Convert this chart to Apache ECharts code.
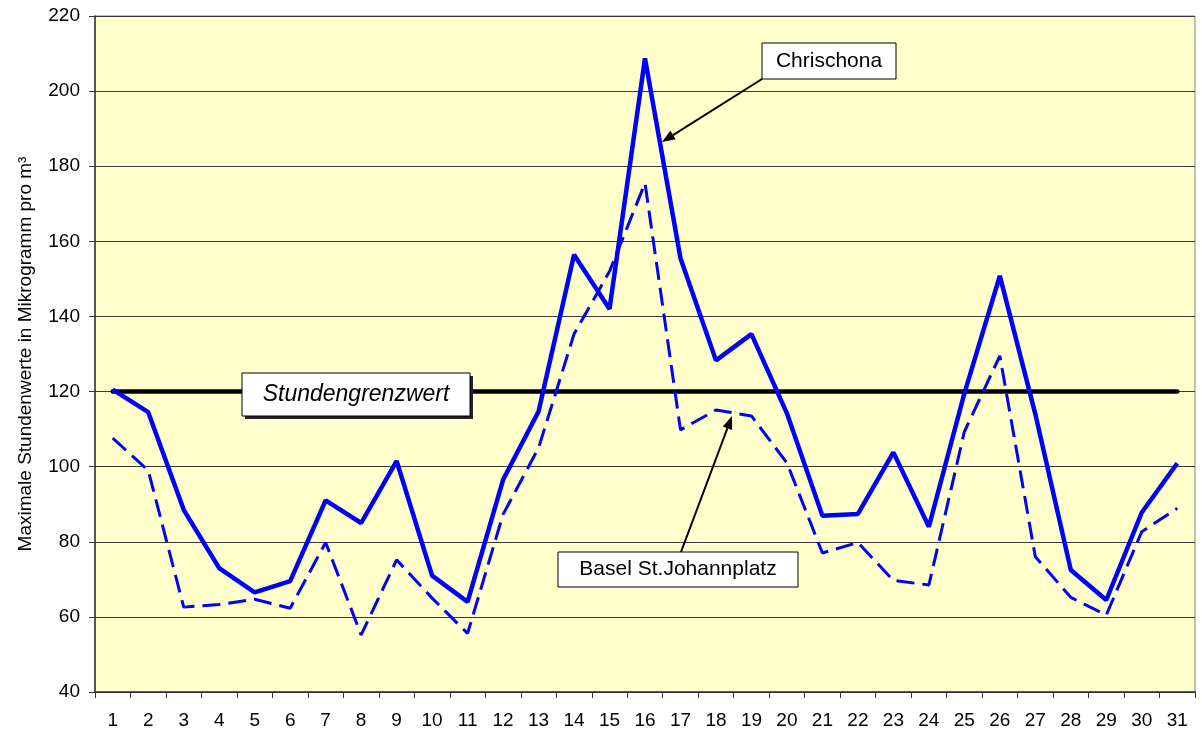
<!DOCTYPE html>
<html>
<head>
<meta charset="UTF-8">
<title>Maximale Stundenwerte</title>
<script src="https://cdn.jsdelivr.net/npm/echarts@6/dist/echarts.min.js" type="text/javascript"></script>
<style>
  html, body { margin: 0; padding: 0; background: #fff; }
</style>
</head>
<body>
<div id="container" style="width: 1202px; height: 736px;"></div>
<script>
// Tage 1..31
var days = [];
for (var d = 1; d <= 31; d++) days.push(String(d));

// Chrischona (durchgezogen)
var chrischona = [120.5, 114.5, 88.5, 73, 66.5, 69.5, 91, 85, 101.5, 71, 64,
                  96.5, 114.7, 156.4, 142, 208.7, 155.5, 128.3, 135.3, 114.2, 86.9,
                  87.4, 103.8, 84, 119.5, 150.8, 114, 72.5, 64.5, 87.8, 100.9];
// Basel St.Johannplatz (gestrichelt)
var basel = [107.6, 99, 62.6, 63.3, 64.7, 62.3, 79.8, 55.2, 75.2, 65, 55.6,
             87.3, 105, 135.3, 152, 175.5, 109.8, 115.1, 113.5, 101, 77,
             79.8, 69.7, 68.5, 109.3, 129.5, 76, 65.2, 60.5, 82.7, 88.9];
// Stundengrenzwert
var grenzwert = 120;
var grenzLine = days.map(function () { return grenzwert; });

var yMin = 40, yMax = 220, yStep = 20;

var mychart = echarts.init(document.getElementById("container"));

// Pfeil: Linie + Spitze
function arrow(x1, y1, x2, y2) {
    var ang = Math.atan2(y2 - y1, x2 - x1);
    var len = 13, half = 5;
    var bx = x2 - len * Math.cos(ang), by = y2 - len * Math.sin(ang);
    var px = -Math.sin(ang) * half, py = Math.cos(ang) * half;
    return [
        { type: 'line', shape: { x1: x1, y1: y1, x2: bx, y2: by },
          style: { stroke: '#000', lineWidth: 2 }, z: 100 },
        { type: 'polygon', shape: { points: [[x2, y2], [bx + px, by + py], [bx - px, by - py]] },
          style: { fill: '#000' }, z: 100 }
    ];
}

function box(x, y, w, h, text, italic, fontSize, shadow) {
    var els = [];
    if (shadow) {
        els.push({ type: 'rect', shape: { x: x + 3, y: y + 3, width: w, height: h },
                   style: { fill: '#222' }, z: 100 });
    }
    els.push({ type: 'rect', shape: { x: x, y: y, width: w, height: h },
               style: { fill: '#fff', stroke: '#000', lineWidth: 1 }, z: 101 });
    els.push({ type: 'text', x: x + w / 2, y: y + h / 2, z: 102,
               style: { text: text, fill: '#000', align: 'center', verticalAlign: 'middle',
                        font: (italic ? 'italic ' : '') + fontSize + 'px "Liberation Sans", Arial, sans-serif' } });
    return els;
}

var graphics = []
    .concat(arrow(762, 79, 662, 142))
    .concat(arrow(681, 552, 732, 416))
    .concat(box(762, 43, 134, 36, 'Chrischona', false, 21, false))
    .concat(box(242, 373, 228, 43, 'Stundengrenzwert', true, 23, true))
    .concat(box(558, 552, 240, 35, 'Basel St.Johannplatz', false, 21, false));

var option = {
    animation: false,
    textStyle: { fontFamily: '"Liberation Sans", Arial, sans-serif' },
    grid: {
        left: 95, top: 16, right: 7, bottom: 44,
        show: true, backgroundColor: '#FFFFCC', borderColor: '#808080', borderWidth: 1
    },
    xAxis: {
        type: 'category',
        data: days,
        boundaryGap: true,
        axisLine: { lineStyle: { color: '#333', width: 1.5 } },
        axisTick: { show: true, alignWithLabel: false, length: 6, lineStyle: { color: '#333' } },
        axisLabel: { color: '#000', fontSize: 19, margin: 19, interval: 0 }
    },
    yAxis: {
        type: 'value',
        min: yMin, max: yMax, interval: yStep,
        name: 'Maximale Stundenwerte in Mikrogramm pro m³',
        nameLocation: 'middle',
        nameGap: 60,
        nameTextStyle: { color: '#000', fontSize: 19 },
        axisLine: { show: true, lineStyle: { color: '#333', width: 1.5 } },
        axisTick: { show: true, length: 6, lineStyle: { color: '#333' } },
        axisLabel: { color: '#000', fontSize: 19, margin: 15 },
        splitLine: { show: true, lineStyle: { color: '#3a3a3a', width: 1 } }
    },
    series: [
        {
            name: 'Stundengrenzwert', type: 'line', data: grenzLine,
            symbol: 'none', z: 2,
            lineStyle: { color: '#000', width: 4.5, cap: 'round' }
        },
        {
            name: 'Basel St.Johannplatz', type: 'line', data: basel,
            symbol: 'none', z: 3,
            lineStyle: { color: '#0000FF', width: 3, type: [18, 8] }
        },
        {
            name: 'Chrischona', type: 'line', data: chrischona,
            symbol: 'none', z: 4,
            lineStyle: { color: '#0000FF', width: 4.5, join: 'bevel' }
        }
    ],
    graphic: graphics
};

mychart.setOption(option);
</script>
</body>
</html>
